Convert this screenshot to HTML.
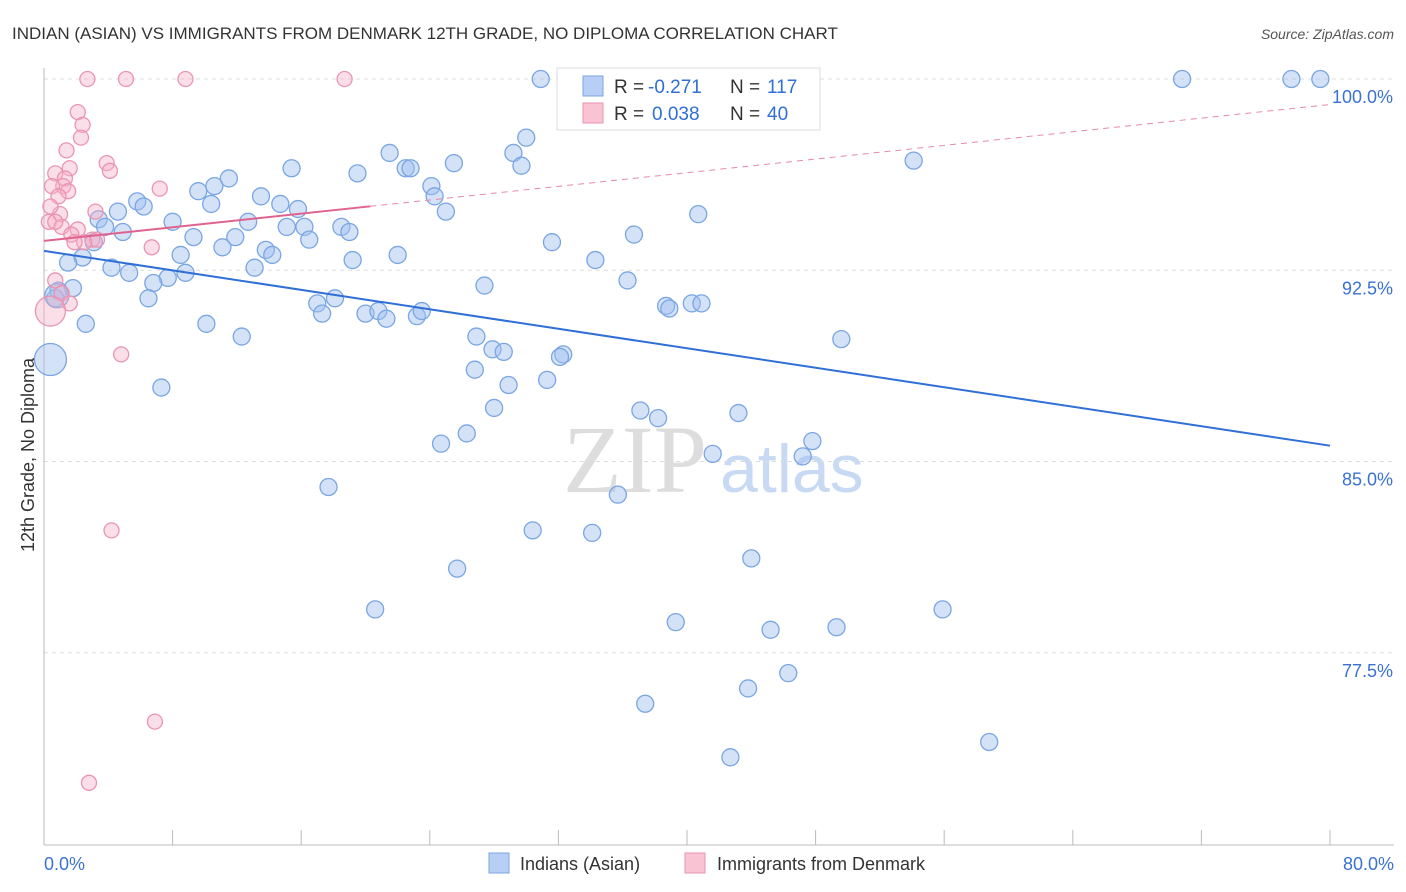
<!DOCTYPE html>
<html><head><meta charset="utf-8"><style>
body{margin:0;background:#fff;font-family:"Liberation Sans",sans-serif;}
svg{display:block}
</style></head><body>
<svg id="chart" width="1406" height="892">
<text x="12" y="39" font-size="17" fill="#333">INDIAN (ASIAN) VS IMMIGRANTS FROM DENMARK 12TH GRADE, NO DIPLOMA CORRELATION CHART</text>
<text x="1394" y="39" font-size="14" fill="#555" text-anchor="end" font-style="italic">Source: ZipAtlas.com</text>
<text x="635" y="492" font-size="96" fill="#ddd" font-family="Liberation Serif,serif" text-anchor="middle">ZIP</text>
<text x="720" y="492" font-size="68" fill="#c8d9f3">atlas</text>
<g id="grid"></g><g id="axes"></g><g id="pts"></g><g id="trends"></g>
<text x="34" y="455" font-size="18" fill="#333" text-anchor="middle" transform="rotate(-90 34 455)">12th Grade, No Diploma</text>
<g>
<rect x="557" y="68" width="263" height="62" fill="#fff" stroke="#ddd"/>
<rect x="583" y="76" width="20" height="20" fill="#b7cff4" stroke="#7ba4e0"/>
<rect x="583" y="103" width="20" height="20" fill="#f9c3d4" stroke="#e894b0"/>
<text x="614" y="93" font-size="19" fill="#333">R =</text>
<text x="648" y="93" font-size="19" fill="#2f6fd6">-0.271</text>
<text x="730" y="93" font-size="19" fill="#333">N =</text>
<text x="767" y="93" font-size="19" fill="#2f6fd6">117</text>
<text x="614" y="120" font-size="19" fill="#333">R =</text>
<text x="652" y="120" font-size="19" fill="#2f6fd6">0.038</text>
<text x="730" y="120" font-size="19" fill="#333">N =</text>
<text x="767" y="120" font-size="19" fill="#2f6fd6">40</text>
</g>
<g>
<rect x="489" y="853" width="20" height="20" fill="#b7cff4" stroke="#7ba4e0"/>
<text x="520" y="870" font-size="18" fill="#333">Indians (Asian)</text>
<rect x="685" y="853" width="20" height="20" fill="#f9c3d4" stroke="#e894b0"/>
<text x="717" y="870" font-size="18" fill="#333">Immigrants from Denmark</text>
</g>
</svg>
<script>
const yTicks=[100,92.5,85,77.5];
const yTickLabels=["100.0%","92.5%","85.0%","77.5%"];
const xTicks=[0,8,16,24,32,40,48,56,64,72,80];
const blueX=[30.9,46.9,70.8,77.6,79.4,30.0,21.5,29.2,25.5,22.5,22.8,29.7,15.4,54.1,19.5,11.5,10.6,24.1,9.6,13.5,24.3,5.8,6.2,10.4,14.7,15.8,4.6,25.0,40.7,3.4,8.0,12.7,15.1,16.2,18.5,19.0,3.8,4.9,9.3,11.9,16.5,36.7,31.6,3.1,11.1,13.8,14.2,22.0,8.5,2.4,1.5,34.3,19.2,13.1,4.2,5.3,8.8,7.7,6.8,36.3,27.4,1.8,0.9,0.7,6.5,17.0,18.1,38.7,38.9,40.3,40.9,17.3,20.0,20.8,21.3,23.2,23.5,10.1,2.6,12.3,26.9,49.6,27.9,28.6,32.3,32.1,26.8,31.3,28.9,7.3,37.1,28.0,43.2,38.2,47.8,26.3,24.7,41.6,47.2,17.7,35.7,30.4,34.1,44.0,25.7,20.6,55.9,39.3,45.2,49.3,46.3,43.8,37.4,58.8,42.7,0.4,0.8];
const blueY=[100,100,100,100,100,97.7,97.1,97.1,96.7,96.5,96.5,96.6,96.5,96.8,96.3,96.1,95.8,95.8,95.6,95.4,95.4,95.2,95.0,95.1,95.1,94.9,94.8,94.8,94.7,94.5,94.4,94.4,94.2,94.2,94.2,94.0,94.2,94.0,93.8,93.8,93.7,93.9,93.6,93.6,93.4,93.3,93.1,93.1,93.1,93.0,92.8,92.9,92.9,92.6,92.6,92.4,92.4,92.2,92.0,92.1,91.9,91.8,91.7,91.4,91.4,91.2,91.4,91.1,91.0,91.2,91.2,90.8,90.8,90.9,90.6,90.7,90.9,90.4,90.4,89.9,89.9,89.8,89.4,89.3,89.2,89.1,88.6,88.2,88.0,87.9,87.0,87.1,86.9,86.7,85.8,86.1,85.7,85.3,85.2,84.0,83.7,82.3,82.2,81.2,80.8,79.2,79.2,78.7,78.4,78.5,76.7,76.1,75.5,74.0,73.4,89.0,91.5];
const pinkX=[2.7,5.1,8.8,18.7,2.1,2.4,2.3,1.4,3.9,4.1,1.6,0.7,1.3,1.2,1.5,7.2,0.5,0.9,1.0,3.2,0.3,1.1,2.1,1.7,3.0,3.3,2.5,1.9,6.7,0.7,1.1,1.6,4.8,4.2,6.9,2.8,0.4,0.7,0.4];
const pinkY=[100,100,100,100,98.7,98.2,97.7,97.2,96.7,96.4,96.5,96.3,96.1,95.8,95.6,95.7,95.8,95.4,94.7,94.8,94.4,94.2,94.1,93.9,93.7,93.7,93.6,93.6,93.4,92.1,91.6,91.2,89.2,82.3,74.8,72.4,95.0,94.4,90.9];
const blueTrend=[93.26,85.62];
const pinkTrend=[93.65,99.0];
const NS="http://www.w3.org/2000/svg";
const xs=v=>44+v*16.075, ys=v=>79+(100-v)*25.5;
function mk(tag,attrs,parent){const e=document.createElementNS(NS,tag);for(const k in attrs)e.setAttribute(k,attrs[k]);document.getElementById(parent).appendChild(e);return e;}
yTicks.forEach((t,i)=>{
 const l=mk('line',{x1:44,x2:1394,y1:ys(t),y2:ys(t),stroke:'#ddd','stroke-dasharray':'4,4'},'grid');
 
 
 const tx=mk('text',{x:1393,y:ys(t)+24,'font-size':18,fill:'#3b72d1','text-anchor':'end'},'grid');
 tx.textContent=yTickLabels[i];
 
 
});
const ax=mk('line',{x1:44,x2:44,y1:68,y2:845,stroke:'#bbb'},'axes');


const bx=mk('line',{x1:44,x2:1394,y1:845,y2:845,stroke:'#bbb'},'axes');


xTicks.forEach(t=>{const l=mk('line',{x1:xs(t),x2:xs(t),y1:830,y2:845,stroke:'#bbb'},'axes');
 
 });
const xl0=mk('text',{x:44,y:870,'font-size':18,fill:'#3b72d1'},'axes');xl0.textContent='0.0%';


const xl1=mk('text',{x:1394,y:870,'font-size':18,fill:'#3b72d1','text-anchor':'end'},'axes');xl1.textContent='80.0%';


blueX.forEach((x,i)=>{const c=mk('circle',{cx:xs(x),cy:ys(blueY[i]),r:i==115?16:(i==116?12:8.5),fill:'rgba(160,190,240,0.45)',stroke:'#7aa6e3','stroke-width':1.3},'pts');
 
 });
pinkX.forEach((x,i)=>{const c=mk('circle',{cx:xs(x),cy:ys(pinkY[i]),r:i==pinkX.length-1?15:7.5,fill:'rgba(246,175,198,0.4)',stroke:'#eb94b2','stroke-width':1.3},'pts');
 
 });
const bt=mk('line',{x1:xs(0),y1:ys(blueTrend[0]),x2:xs(80),y2:ys(blueTrend[1]),stroke:'#2f6fd6','stroke-width':2},'trends');


const pAt=v=>pinkTrend[0]+(pinkTrend[1]-pinkTrend[0])*v/80;
const pt=mk('line',{x1:xs(0),y1:ys(pinkTrend[0]),x2:xs(20.3),y2:ys(pAt(20.3)),stroke:'#e0628f','stroke-width':2},'trends');


const pd=mk('line',{x1:xs(20.3),y1:ys(pAt(20.3)),x2:xs(80),y2:ys(pinkTrend[1]),stroke:'#e68aa9','stroke-width':1,'stroke-dasharray':'6,5'},'trends');


</script>
</body></html>
